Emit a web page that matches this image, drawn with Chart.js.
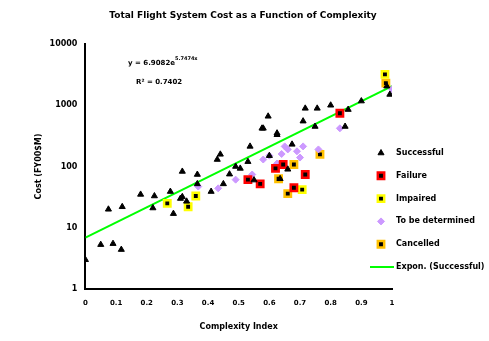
<!DOCTYPE html>
<html lang="en">
<head>
  <meta charset="UTF-8">
  <title>Total Flight System Cost as a Function of Complexity</title>
  <script src="https://cdn.jsdelivr.net/npm/chart.js"></script>
  <style>
    body { margin: 0; background: #fff; }
    #wrap { width: 489px; height: 341px; }
  </style>
</head>
<body>
  <div id="wrap"><canvas id="costChart" width="489" height="341"></canvas></div>
  <script>
    // data: [complexity index, cost FY00 $M]
    const successful = [
      [0.0, 3], [0.075, 20], [0.12, 22], [0.05, 5.3], [0.09, 5.5], [0.117, 4.4],
      [0.18, 35], [0.225, 33], [0.22, 21], [0.277, 39], [0.287, 17], [0.31, 30],
      [0.316, 83], [0.365, 74], [0.44, 158], [0.43, 130], [0.537, 213], [0.505, 93],
      [0.576, 420], [0.625, 330], [0.674, 230], [0.45, 52], [0.41, 39], [0.33, 27],
      [0.365, 52], [0.316, 32], [0.635, 63], [0.596, 660], [0.58, 420], [0.717, 890],
      [0.756, 890], [0.80, 1000], [0.857, 850], [0.90, 1170], [0.847, 450], [0.71, 550],
      [0.749, 450], [0.625, 350], [0.983, 2050], [0.993, 1500], [0.49, 100], [0.47, 75],
      [0.53, 120], [0.6, 150], [0.66, 90], [0.55, 60]
    ];
    const failure = [
      [0.53, 61], [0.57, 52], [0.62, 93], [0.645, 108], [0.717, 74], [0.68, 45], [0.83, 740]
    ];
    const impaired = [
      [0.36, 33], [0.335, 22], [0.267, 25], [0.707, 42], [0.977, 3200]
    ];
    const undetermined = [
      [0.65, 213], [0.71, 213], [0.58, 130], [0.544, 74], [0.69, 177], [0.625, 112],
      [0.66, 190], [0.6, 150], [0.49, 61], [0.433, 44], [0.368, 47], [0.83, 420],
      [1.0, 1830], [0.76, 190], [0.64, 160], [0.7, 140]
    ];
    const cancelled = [
      [0.765, 158], [0.63, 63], [0.66, 36], [0.68, 108], [0.98, 2300]
    ];
    const trend = [[0.0, 6.9], [1.0, 2050]];
    const yTicks = [1, 10, 100, 1000, 10000];
    const chartTitle = 'Total Flight System Cost as a Function of Complexity';
    const fitText = ['y = 6.9082e', 'R² = 0.7402'];

    const pts = arr => arr.map(p => ({ x: p[0], y: p[1] }));
    const boxed = (color) => ({
      pointStyle: 'rect', pointRadius: 4.5, backgroundColor: '#000',
      borderColor: color, pointBorderWidth: 2.5
    });

    // legend, title and trendline label drawn by hand (title is centred on the page, not the plot)
    const legendPlugin = {
      id: 'sideLegend',
      afterDraw(chart) {
        const ctx = chart.ctx;
        const items = chart.data.datasets;
        ctx.save();
        ctx.fillStyle = '#000';
        ctx.textAlign = 'center';
        ctx.textBaseline = 'middle';
        ctx.font = 'bold 9px "DejaVu Sans"';
        ctx.fillText(chartTitle, 243, 16);
        ctx.textAlign = 'left';
        ctx.font = 'bold 8px "DejaVu Sans"';
        items.forEach((ds, i) => {
          const y = 153 + i * 22.8;
          if (ds.type === 'line') {
            ctx.strokeStyle = ds.borderColor;
            ctx.lineWidth = 2;
            ctx.beginPath(); ctx.moveTo(370, y); ctx.lineTo(394, y); ctx.stroke();
          } else {
            const o = chart.getDatasetMeta(i).data[0].options;
            ctx.fillStyle = o.backgroundColor; ctx.strokeStyle = o.borderColor;
            ctx.lineWidth = o.borderWidth;
            Chart.helpers.drawPoint(ctx, o, 381, y);
          }
          ctx.fillStyle = '#000';
          ctx.fillText(ds.label, 396, y);
        });
        ctx.font = 'bold 7px "DejaVu Sans"';
        ctx.fillText(fitText[0], 128, 63);
        const w = ctx.measureText(fitText[0]).width;
        ctx.font = 'bold 5px "DejaVu Sans"';
        ctx.fillText('5.7474x', 128 + w, 59);
        ctx.font = 'bold 7px "DejaVu Sans"';
        ctx.fillText(fitText[1], 136, 82);
        ctx.restore();
      }
    };

    new Chart(document.getElementById('costChart'), {
      type: 'scatter',
      data: {
        datasets: [
          { label: 'Successful', data: pts(successful), pointStyle: 'triangle', pointRadius: 3.5,
            backgroundColor: '#000', borderColor: '#000', pointBorderWidth: 1 },
          Object.assign({ label: 'Failure', data: pts(failure) }, boxed('#ff0000')),
          Object.assign({ label: 'Impaired', data: pts(impaired) }, boxed('#ffff00')),
          { label: 'To be determined', data: pts(undetermined), pointStyle: 'rectRot', pointRadius: 3.5,
            backgroundColor: '#cc99ff', borderColor: '#cc99ff', pointBorderWidth: 1 },
          Object.assign({ label: 'Cancelled', data: pts(cancelled) }, boxed('#ffc000')),
          { type: 'line', label: 'Expon. (Successful)', data: pts(trend), borderColor: '#00ff00',
            borderWidth: 2, pointRadius: 0, fill: false }
        ]
      },
      options: {
        responsive: false,
        animation: false,
        layout: { padding: { left: 30, right: 97, top: 44, bottom: 5 } },
        plugins: {
          legend: { display: false },
          tooltip: { enabled: false },
          title: { display: false }
        },
        scales: {
          x: {
            type: 'linear', min: 0, max: 1,
            grid: { display: false, drawTicks: true, tickLength: 4, color: '#000' },
            border: { color: '#000', width: 2 },
            ticks: { stepSize: 0.1, color: '#000', font: { family: 'DejaVu Sans', size: 7, weight: 'bold' },
              callback: v => Math.round(v * 10) / 10, padding: 6 },
            title: { display: true, text: 'Complexity Index', color: '#000',
              font: { family: 'DejaVu Sans', size: 8, weight: 'bold' }, padding: { top: 9 } }
          },
          y: {
            type: 'logarithmic', min: 1, max: 10000,
            afterBuildTicks: axis => { axis.ticks = yTicks.map(v => ({ value: v })); },
            grid: { display: false, drawTicks: true, tickLength: 4, color: '#000' },
            border: { color: '#000', width: 2 },
            ticks: { color: '#000', font: { family: 'DejaVu Sans', size: 8, weight: 'bold' },
              callback: v => String(v), padding: 4 },
            title: { display: true, text: 'Cost (FY00$M)', color: '#000',
              font: { family: 'DejaVu Sans', size: 8, weight: 'bold' }, padding: { bottom: 2 } }
          }
        }
      },
      plugins: [legendPlugin]
    });
  </script>
</body>
</html>
